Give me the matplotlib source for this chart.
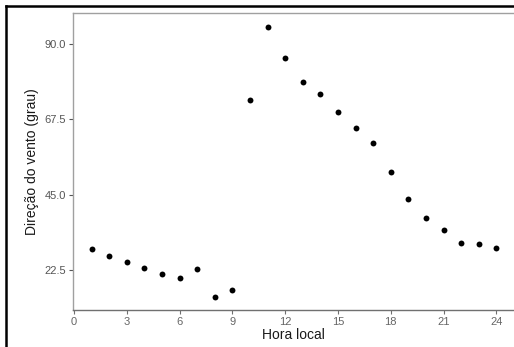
import matplotlib
matplotlib.use("Agg")
import matplotlib.pyplot as plt
from matplotlib.lines import Line2D

plt.rcParams['font.family'] = ['Liberation Sans', 'DejaVu Sans']

# hourly wind direction
hora = list(range(1, 25))
direcao = [28.9, 26.7, 25.0, 23.1, 21.4, 20.1, 22.8, 14.5, 16.6, 73.2,
           95.2, 85.8, 78.8, 75.0, 69.8, 65.0, 60.3, 51.9, 43.8, 38.0,
           34.6, 30.7, 30.4, 29.1]
xticks = [0, 3, 6, 9, 12, 15, 18, 21, 24]
yticks = [22.5, 45.0, 67.5, 90.0]

fig = plt.figure(figsize=(5.14, 3.47), dpi=100)
ax = fig.add_axes([73 / 514, 1 - 310 / 347, (514 - 73) / 514, (310 - 13) / 347])

ax.scatter(hora, direcao, s=18, color='black', zorder=3, linewidths=0)

ax.set_xlim(-0.06, 25.0)
ax.set_ylim(10.6, 99.25)
ax.set_xticks(xticks)
ax.set_yticks(yticks)
ax.set_yticklabels([f"{v:.1f}" for v in yticks])

for s in ['left', 'bottom', 'top']:
    ax.spines[s].set_color('#a0a0a0')
    ax.spines[s].set_linewidth(1.0)
ax.spines['bottom'].set_color('#707070')
ax.spines['right'].set_visible(False)
ax.tick_params(colors='#555555', labelsize=8, length=3, width=0.8, pad=2)
ax.tick_params(axis='x', colors='#707070', labelcolor='#666666')

ax.set_xlabel('Hora local', fontsize=10, color='#1a1a1a', labelpad=1)
ax.set_ylabel('Direção do vento (grau)', fontsize=10, color='#1a1a1a', labelpad=4)

# image frame on the left and top
fig.add_artist(Line2D([6 / 514, 6 / 514], [0, 1 - 6 / 347], transform=fig.transFigure,
                      color='black', linewidth=1.8))
fig.add_artist(Line2D([6 / 514, 1], [1 - 6 / 347, 1 - 6 / 347], transform=fig.transFigure,
                      color='black', linewidth=1.8))

fig.savefig('out.png', dpi=100)
